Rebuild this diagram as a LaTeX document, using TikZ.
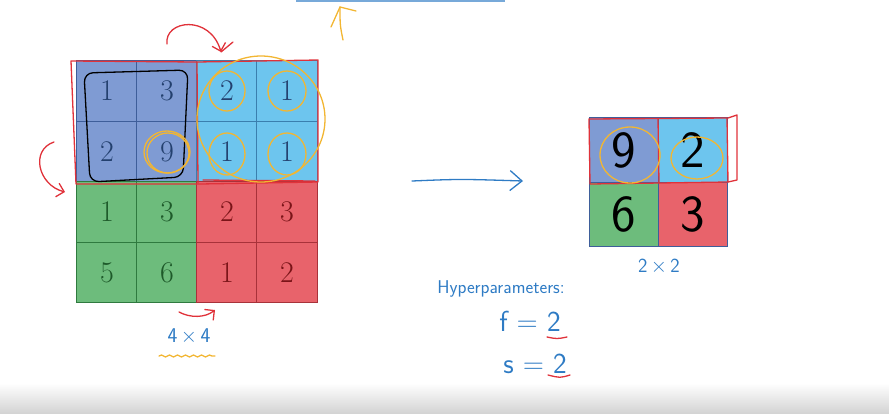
\documentclass[tikz,border=0pt]{standalone}
\usetikzlibrary{arrows.meta,decorations.pathmorphing}
\definecolor{cBlueP}{HTML}{7F9BD3}
\definecolor{cBlueL}{HTML}{6DC5EE}
\definecolor{cGreen}{HTML}{6DBC7C}
\definecolor{cRed}{HTML}{E8636B}
\definecolor{lBlueP}{HTML}{3E5E9A}
\definecolor{lBlueL}{HTML}{3A7FAE}
\definecolor{lGreen}{HTML}{2F7A3F}
\definecolor{lRed}{HTML}{A8323A}
\definecolor{tBlue}{HTML}{23406E}
\definecolor{tGreen}{HTML}{1E5A2A}
\definecolor{tRed}{HTML}{7A1418}
\definecolor{penRed}{HTML}{E0323A}
\definecolor{penOrange}{HTML}{F2B632}
\definecolor{penBlue}{HTML}{2E7BC4}
\begin{document}
\begin{tikzpicture}[x=1pt,y=-1pt,
  cell/.style={draw, minimum size=60.5pt, inner sep=0pt, line width=0.8pt,
    font=\fontsize{30}{32}\selectfont},
  bp/.style={cell, fill=cBlueP, draw=lBlueP, text=tBlue},
  bl/.style={cell, fill=cBlueL, draw=lBlueL, text=tBlue},
  gr/.style={cell, fill=cGreen, draw=lGreen, text=tGreen},
  rd/.style={cell, fill=cRed, draw=lRed, text=tRed},
  ocell/.style={draw=lBlueP, minimum width=69pt, minimum height=64.5pt, inner sep=0pt,
    line width=0.8pt, text=black, font=\sffamily\fontsize{52}{54}\selectfont},
  redpen/.style={draw=penRed, line width=1.3pt, line cap=round, line join=round},
  orpen/.style={draw=penOrange, line width=1.3pt, line cap=round},
  bluepen/.style={draw=penBlue, line width=1.3pt, line cap=round},
  hand/.style={text=penBlue, font=\sffamily},
  barb/.style={-{Straight Barb[length=7pt,width=14pt]}}
]
\useasboundingbox (0,0) rectangle (889,413);
\shade[top color=white, bottom color=black!17] (0,383) rectangle (889,413);

% top fragments
\draw[penBlue!65, line width=1.8pt] (296,1) -- (505,1);
\draw[orpen] (343,40) .. controls (340,25) .. (340,7);
\draw[orpen] (331,27) -- (340,7) -- (356,11);

% left 4x4 grid
\node[bp] (a11) at (107,91) {1};
\node[bp] (a12) at (167,91) {3};
\node[bl] (a13) at (227,91) {2};
\node[bl] (a14) at (287,91) {1};
\node[bp] (a21) at (107,152) {2};
\node[bp] (a22) at (167,152) {9};
\node[bl] (a23) at (227,152) {1};
\node[bl] (a24) at (287,152) {1};
\node[gr] (a31) at (107,212) {1};
\node[gr] (a32) at (167,212) {3};
\node[rd] (a33) at (227,212) {2};
\node[rd] (a34) at (287,212) {3};
\node[gr] (a41) at (107,272.5) {5};
\node[gr] (a42) at (167,272.5) {6};
\node[rd] (a43) at (227,272.5) {1};
\node[rd] (a44) at (287,272.5) {2};

% right 2x2 grid
\node[ocell, fill=cBlueP] (b11) at (623.5,150) {9};
\node[ocell, fill=cBlueL] (b12) at (692.5,150) {2};
\node[ocell, fill=cGreen] (b21) at (623.5,214.5) {6};
\node[ocell, fill=cRed] (b22) at (692.5,214.5) {3};

% hand-drawn marks on left grid
\draw[redpen] (71,61) -- (197,62) -- (318,60) -- (318,182) -- (200,184) -- (76,184) -- cycle;
\draw[redpen] (197,62) -- (198,183);
\draw[redpen] (203,180) -- (315,181);
\draw[black, line width=1.3pt, rounded corners=9pt] (84,73) -- (188,70) -- (183,177) -- (90,182) -- cycle;
\draw[orpen] (a22.center) ellipse (23pt and 21pt);
\draw[orpen] ([xshift=1pt,yshift=-1pt]a22.center) ellipse (21pt and 20pt);
\draw[orpen] (a13.center) ellipse (18pt and 20pt);
\draw[orpen] (a14.center) ellipse (19pt and 20pt);
\draw[orpen] ([yshift=-2pt]a23.center) ellipse (18pt and 21pt);
\draw[orpen] ([yshift=-2pt]a24.center) ellipse (19pt and 21pt);
\draw[orpen] (261,119) ellipse (64pt and 63pt);

% red curved arrows
\draw[redpen, barb] (167,44) .. controls (164,20) and (210,14) .. (221,52);
\draw[redpen] (221,52) -- (233,42);
\draw[redpen, barb] (54,142) .. controls (30,150) and (38,185) .. (65,192);
\draw[redpen, barb] (179,312) .. controls (190,318) and (205,318) .. (215,310);

% labels under left grid
\node[hand, font=\sffamily\fontsize{21}{24}\selectfont] (dim1) at (189,336) {4\,$\times$\,4};
\draw[orpen, decorate, decoration={snake, amplitude=1pt, segment length=8pt}] (159,356) -- (215,356);

% main arrow
\coordinate (arrS) at (412,181);
\coordinate (arrE) at (523,181);
\draw[bluepen, -{Straight Barb[length=12pt,width=20pt]}] (arrS) .. controls (460,179) .. (arrE);

% hand-drawn marks on right grid
\draw[redpen] (589,119) -- (727,118) -- (728,182) -- (660,183) -- (590,184) -- cycle;
\draw[redpen] (658,119) -- (659,183);
\draw[redpen] (728,118) -- (737,115) -- (737,180) -- (728,182);
\draw[orpen] (630,155) ellipse (30pt and 28pt);
\draw[orpen] (697,158) ellipse (26pt and 21pt);
\node[hand, font=\sffamily\fontsize{20}{22}\selectfont] (dim2) at (659,267) {2\,$\times$\,2};

% hyperparameters
\node[hand, font=\sffamily\fontsize{18.5}{21}\selectfont] (hyp) at (501,289) {Hyperparameters:};
\node[hand, font=\sffamily\fontsize{29}{31}\selectfont] (fval) at (530,321) {f = 2};
\node[hand, font=\sffamily\fontsize{29}{31}\selectfont] (sval) at (535,364) {s = 2};
\draw[redpen] (547,337) .. controls (557,339) .. (567,337);
\draw[redpen] (548,375) .. controls (560,378) .. (570,375);
\end{tikzpicture}
\end{document}
